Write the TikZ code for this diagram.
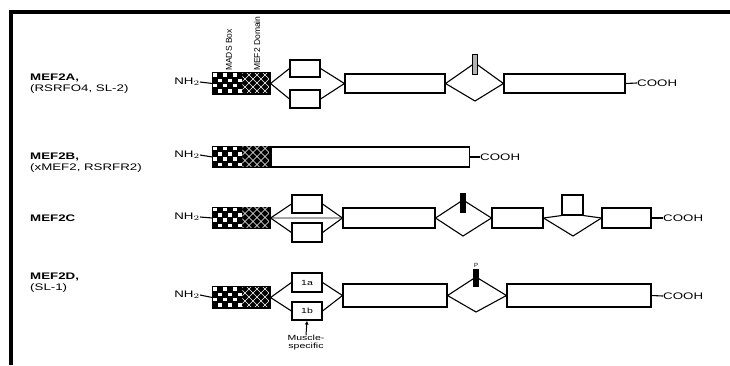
\documentclass[tikz,border=0pt]{standalone}
\usepackage{fontspec}
\setmainfont{Liberation Sans}
\usetikzlibrary{arrows.meta}
\newcommand\wtxt[1]{\scalebox{1.4}[1]{#1}}
\newcommand\dompattern[1]{%
  \begin{scope}[shift={(#1.north west)}]
    \foreach \i in {0,...,5}{
      \foreach \j in {0,...,3}{
        \pgfmathtruncatemacro\chk{mod(\i+\j,2)}
        \ifnum\chk=0
          \fill[white] (\i*5+0.9,\j*5.25+0.9) rectangle ++(3.6,3.6);
        \fi
      }
    }
    \begin{scope}
      \clip (30,0.6) rectangle (56.4,20.4);
      \foreach \k in {-28,-20,...,52}{
        \draw[white, line width=0.5pt] (30+\k,0) -- ++(21,21);
        \draw[white, line width=0.5pt] (30+\k+21,0) -- ++(-21,21);
      }
    \end{scope}
  \end{scope}}
\tikzset{
  ln/.style={line width=1.1pt},
  bx/.style={draw, line width=1.1pt, fill=white, inner sep=0pt},
  labtxt/.style={font=\fontsize{9.5}{10.5}\selectfont, inner sep=0pt, anchor=west},
  termtxt/.style={font=\fontsize{9.5}{10}\selectfont, inner sep=0pt},
  rottxt/.style={font=\fontsize{8.5}{9}\selectfont, inner sep=0pt, rotate=90, anchor=west},
  smalltxt/.style={font=\fontsize{7.5}{8}\selectfont, inner sep=0pt},
  barbox/.style={draw, line width=0.6pt, inner sep=0pt, minimum width=5pt},
  dombox/.style={draw, line width=1.1pt, fill=black, inner sep=0pt,
    minimum width=57pt, minimum height=21pt},
}
\begin{document}
\begin{tikzpicture}[x=1pt,y=-1pt]
\useasboundingbox (0,0) rectangle (730,365);
% frame
\draw[line width=4pt] (730,12) -- (11,12) -- (11,365);

% ---------- MEF2A ----------
\node[labtxt] (l1) at (30,84) {\wtxt{\begin{tabular}{@{}l@{}}\textbf{MEF2A,}\\(RSRFO4, SL-2)\end{tabular}}};
\node[dombox] (dom1) at (241.5,83.5) {};
\dompattern{dom1}
\node[rottxt] (mads) at (229,71) {MADS Box};
\node[rottxt] (mefd) at (257,71) {MEF2 Domain};
\node[termtxt, anchor=east] (nh1) at (200,82) {\wtxt{NH$_2$}};
\draw[ln] (nh1.east) -- (dom1.west);
\node[bx, minimum width=30pt, minimum height=17pt] (a1) at (305,68.5) {};
\node[bx, minimum width=30pt, minimum height=18pt] (b1) at (305,99) {};
\node[bx, minimum width=100pt, minimum height=19pt] (m1) at (395,83.5) {};
\node[bx, minimum width=121pt, minimum height=19pt] (n1) at (564.5,83.5) {};
\coordinate (d1t) at (475,63);
\coordinate (d1b) at (475,101);
\draw[ln] (dom1.east) -- (a1.west) (dom1.east) -- (b1.west);
\draw[ln] (a1.east) -- (m1.west) (b1.east) -- (m1.west);
\draw[ln, line join=miter] (m1.east) -- (d1t) -- (n1.west) -- (d1b) -- cycle;
\node[barbox, fill=gray!60, minimum height=20pt] (p1) at (475,64) {};
\node[termtxt, anchor=west] (c1) at (637,83) {\wtxt{COOH}};
\draw[ln] (n1.east) -- (c1.west);

% ---------- MEF2B ----------
\node[labtxt] (l2) at (30,163) {\wtxt{\begin{tabular}{@{}l@{}}\textbf{MEF2B,}\\(xMEF2, RSRFR2)\end{tabular}}};
\node[dombox] (dom2) at (241.5,157) {};
\dompattern{dom2}
\node[termtxt, anchor=east] (nh2) at (200,155) {\wtxt{NH$_2$}};
\draw[ln] (nh2.east) -- (dom2.west);
\node[bx, minimum width=198pt, minimum height=20pt, anchor=west] (m2) at (dom2.east) {};
\node[termtxt, anchor=west] (c2) at (480,157) {\wtxt{COOH}};
\draw[ln] (m2.east) -- (c2.west);

% ---------- MEF2C ----------
\node[labtxt] (l3) at (30,218) {\wtxt{\textbf{MEF2C}}};
\node[dombox] (dom3) at (241.5,218) {};
\dompattern{dom3}
\node[termtxt, anchor=east] (nh3) at (200,217) {\wtxt{NH$_2$}};
\draw[ln] (nh3.east) -- (dom3.west);
\node[bx, minimum width=30pt, minimum height=18pt] (a3) at (307,204) {};
\node[bx, minimum width=30pt, minimum height=19pt] (b3) at (307,232.5) {};
\node[bx, minimum width=92pt, minimum height=20pt] (m3) at (389,218) {};
\draw[line width=1.6pt, gray!70] (dom3.east) -- (m3.west);
\draw[ln] (dom3.east) -- (a3.west) (dom3.east) -- (b3.west);
\draw[ln] (a3.east) -- (m3.west) (b3.east) -- (m3.west);
\node[bx, minimum width=51pt, minimum height=20pt] (m3b) at (517.5,218) {};
\coordinate (d3t) at (463,200);
\coordinate (d3b) at (463,236);
\draw[ln, line join=miter] (m3.east) -- (d3t) -- (m3b.west) -- (d3b) -- cycle;
\node[barbox, fill=black, minimum height=19pt] (p3) at (463,202.5) {};
\node[bx, minimum width=49pt, minimum height=20pt] (m3c) at (626.5,218) {};
\node[bx, minimum width=21pt, minimum height=20pt] (e3) at (572.5,205) {};
\coordinate (d3b2) at (573,236);
\draw[ln] (m3b.east) -- (e3.south west) (e3.south east) -- (m3c.west);
\draw[ln] (m3b.east) -- (d3b2) -- (m3c.west);
\node[termtxt, anchor=west] (c3) at (663,218) {\wtxt{COOH}};
\draw[ln] (m3c.east) -- (c3.west);

% ---------- MEF2D ----------
\node[labtxt] (l4) at (30,283) {\wtxt{\begin{tabular}{@{}l@{}}\textbf{MEF2D,}\\(SL-1)\end{tabular}}};
\node[dombox] (dom4) at (241.5,297.5) {};
\dompattern{dom4}
\node[termtxt, anchor=east] (nh4) at (200,295) {\wtxt{NH$_2$}};
\draw[ln] (nh4.east) -- (dom4.west);
\node[bx, minimum width=30pt, minimum height=19pt, smalltxt] (a4) at (307,282.5) {\wtxt{1a}};
\node[bx, minimum width=30pt, minimum height=18pt, smalltxt] (b4) at (307,311) {\wtxt{1b}};
\node[bx, minimum width=104pt, minimum height=23pt] (m4) at (395,295.5) {};
\draw[ln] (dom4.east) -- (a4.west) (dom4.east) -- (b4.west);
\draw[ln] (a4.east) -- (m4.west) (b4.east) -- (m4.west);
\node[bx, minimum width=144pt, minimum height=23pt] (n4) at (579,295.5) {};
\coordinate (d4t) at (476,277);
\coordinate (d4b) at (476,312);
\draw[ln, line join=miter] (m4.east) -- (d4t) -- (n4.west) -- (d4b) -- cycle;
\node[barbox, fill=black, minimum height=17pt] (p4) at (476,278) {};
\node[smalltxt, anchor=south] (pl) at (476,268) {\fontsize{6}{6}\selectfont P};
\node[termtxt, anchor=west] (c4) at (663,296) {\wtxt{COOH}};
\draw[ln] (n4.east) -- (c4.west);
\node[smalltxt, align=center] (ms) at (306,343) {\wtxt{Muscle-}\\\wtxt{specific}};
\draw[line width=1pt, -{Latex[length=4pt,width=4pt]}] (ms.north) -- (b4.south);
\end{tikzpicture}
\end{document}
